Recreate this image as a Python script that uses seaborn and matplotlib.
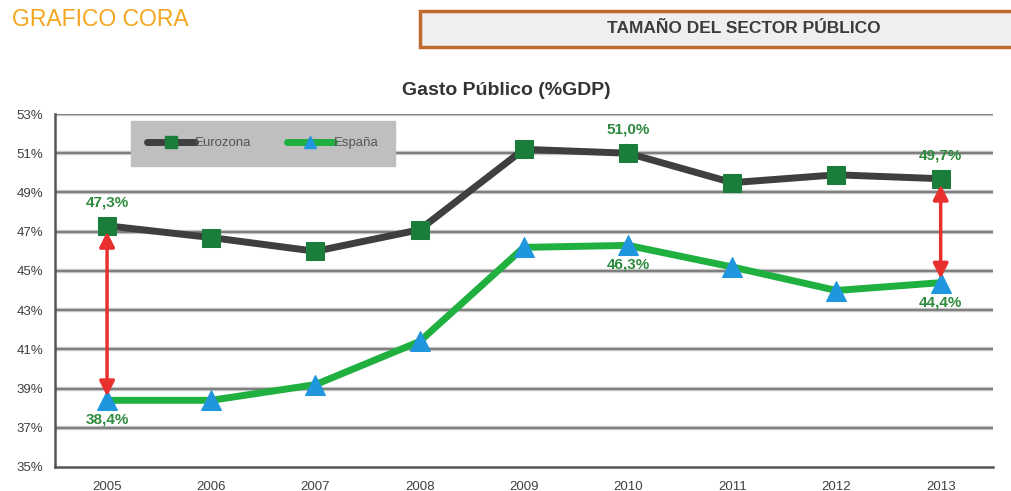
import pandas as pd
import seaborn as sns
import matplotlib

matplotlib.use("Agg")
import matplotlib.pyplot as plt
from matplotlib.patches import Rectangle
from matplotlib.ticker import FuncFormatter

years = [2005, 2006, 2007, 2008, 2009, 2010, 2011, 2012, 2013]
eurozona = [47.3, 46.7, 46.0, 47.1, 51.2, 51.0, 49.5, 49.9, 49.7]
espana = [38.4, 38.4, 39.2, 41.4, 46.2, 46.3, 45.2, 44.0, 44.4]
y_ticks = [35, 37, 39, 41, 43, 45, 47, 49, 51, 53]

# value labels written on the chart
labels_euro = {2005: "47,3%", 2010: "51,0%", 2013: "49,7%"}
labels_esp = {2005: "38,4%", 2010: "46,3%", 2013: "44,4%"}
arrow_years = [2005, 2013]

sns.set_style("white")
plt.rcParams["font.family"] = ["Liberation Sans", "DejaVu Sans"]

df = pd.DataFrame({"year": years, "Eurozona": eurozona, "España": espana})

fig = plt.figure(figsize=(10.12, 4.91), dpi=100)
ax = fig.add_axes([0.0543, 0.0489, 0.9267, 0.7189])

grid_c = "#7f7f7f"
for v in y_ticks[1:]:
    ax.axhline(v, color="#cfcfcf", lw=3.2, zorder=0)
    ax.axhline(v, color=grid_c, lw=1.6, zorder=0)

sns.lineplot(data=df, x="year", y="Eurozona", ax=ax, color="#3f3f3f", lw=5,
             marker="s", markersize=13, markerfacecolor="#1a7d3a",
             markeredgecolor="#1a7d3a", zorder=3)
sns.lineplot(data=df, x="year", y="España", ax=ax, color="#1fb040", lw=5,
             marker="^", markersize=14, markerfacecolor="#1f96de",
             markeredgecolor="#1f96de", zorder=3)

ax.set_xlim(2004.5, 2013.5)
ax.set_ylim(35, 53)
ax.set_yticks(y_ticks)
ax.yaxis.set_major_formatter(FuncFormatter(lambda v, p: "%d%%" % v))
ax.set_xticks(years)
ax.set_xticks([y + 0.5 for y in years[:-1]] + [2004.5, 2013.5], minor=True)
ax.tick_params(axis="x", which="major", length=0, pad=10, labelsize=9.5, colors="#404040")
ax.tick_params(axis="x", which="minor", length=5, width=1.5, color="#555555", direction="out")
ax.tick_params(axis="y", which="major", length=5, width=1.5, color="#555555",
               direction="out", labelsize=9.5, colors="#404040")
ax.set_xlabel("")
ax.set_ylabel("")
for s in ["top", "right"]:
    ax.spines[s].set_visible(False)
for s in ["left", "bottom"]:
    ax.spines[s].set_color("#555555")
    ax.spines[s].set_linewidth(1.8)

lab_c = "#2e8b3e"
for y, t in labels_euro.items():
    v = eurozona[years.index(y)]
    ax.annotate(t, (y, v), xytext=(0, 12), textcoords="offset points", ha="center",
                va="bottom", color=lab_c, fontsize=11, fontweight="bold")
for y, t in labels_esp.items():
    v = espana[years.index(y)]
    ax.annotate(t, (y, v), xytext=(0, -9), textcoords="offset points", ha="center",
                va="top", color=lab_c, fontsize=11, fontweight="bold")

for y in arrow_years:
    i = years.index(y)
    ax.annotate("", xy=(y, espana[i] + 0.2), xytext=(y, eurozona[i] - 0.3),
                arrowprops=dict(arrowstyle="<|-|>,head_length=0.9,head_width=0.45",
                                color="#e8302f", lw=2.5, shrinkA=0, shrinkB=0), zorder=4)

handles = [plt.Line2D([], [], color="#3f3f3f", lw=5, marker="s", markersize=8,
                      markerfacecolor="#1a7d3a", markeredgecolor="#1a7d3a"),
           plt.Line2D([], [], color="#1fb040", lw=5, marker="^", markersize=8,
                      markerfacecolor="#1f96de", markeredgecolor="#1f96de")]
leg = ax.legend(handles, ["Eurozona", "España"], ncol=2, loc="upper left",
                bbox_to_anchor=(0.074, 1.0, 0.296, 0.0), mode="expand",
                frameon=True, fancybox=False, handlelength=3.6, handletextpad=0.0,
                borderpad=1.25, fontsize=9.5, columnspacing=1.0)
leg.get_frame().set_facecolor("#bfbfbf")
leg.get_frame().set_edgecolor("#bfbfbf")
leg.get_frame().set_alpha(1)
for t in leg.get_texts():
    t.set_color("#555555")

fig.text(0.5, 0.816, "Gasto Público (%GDP)", ha="center", va="center",
         fontsize=14, fontweight="bold", color="#333333")

fig.text(0.012, 0.96, "GRAFICO CORA", ha="left", va="center", fontsize=16.5,
         color="#f4a61c", family=["Liberation Sans Narrow", "Liberation Sans"])

box = Rectangle((0.415, 0.905), 0.59, 0.072, transform=fig.transFigure,
                facecolor="#efefef", edgecolor="#c06a32", lw=2.5)
fig.patches.append(box)
fig.text(0.735, 0.941, "TAMAÑO DEL SECTOR PÚBLICO", ha="center", va="center",
         fontsize=12.5, fontweight="bold", color="#3c3c3c")

fig.savefig("out.png", dpi=100)
